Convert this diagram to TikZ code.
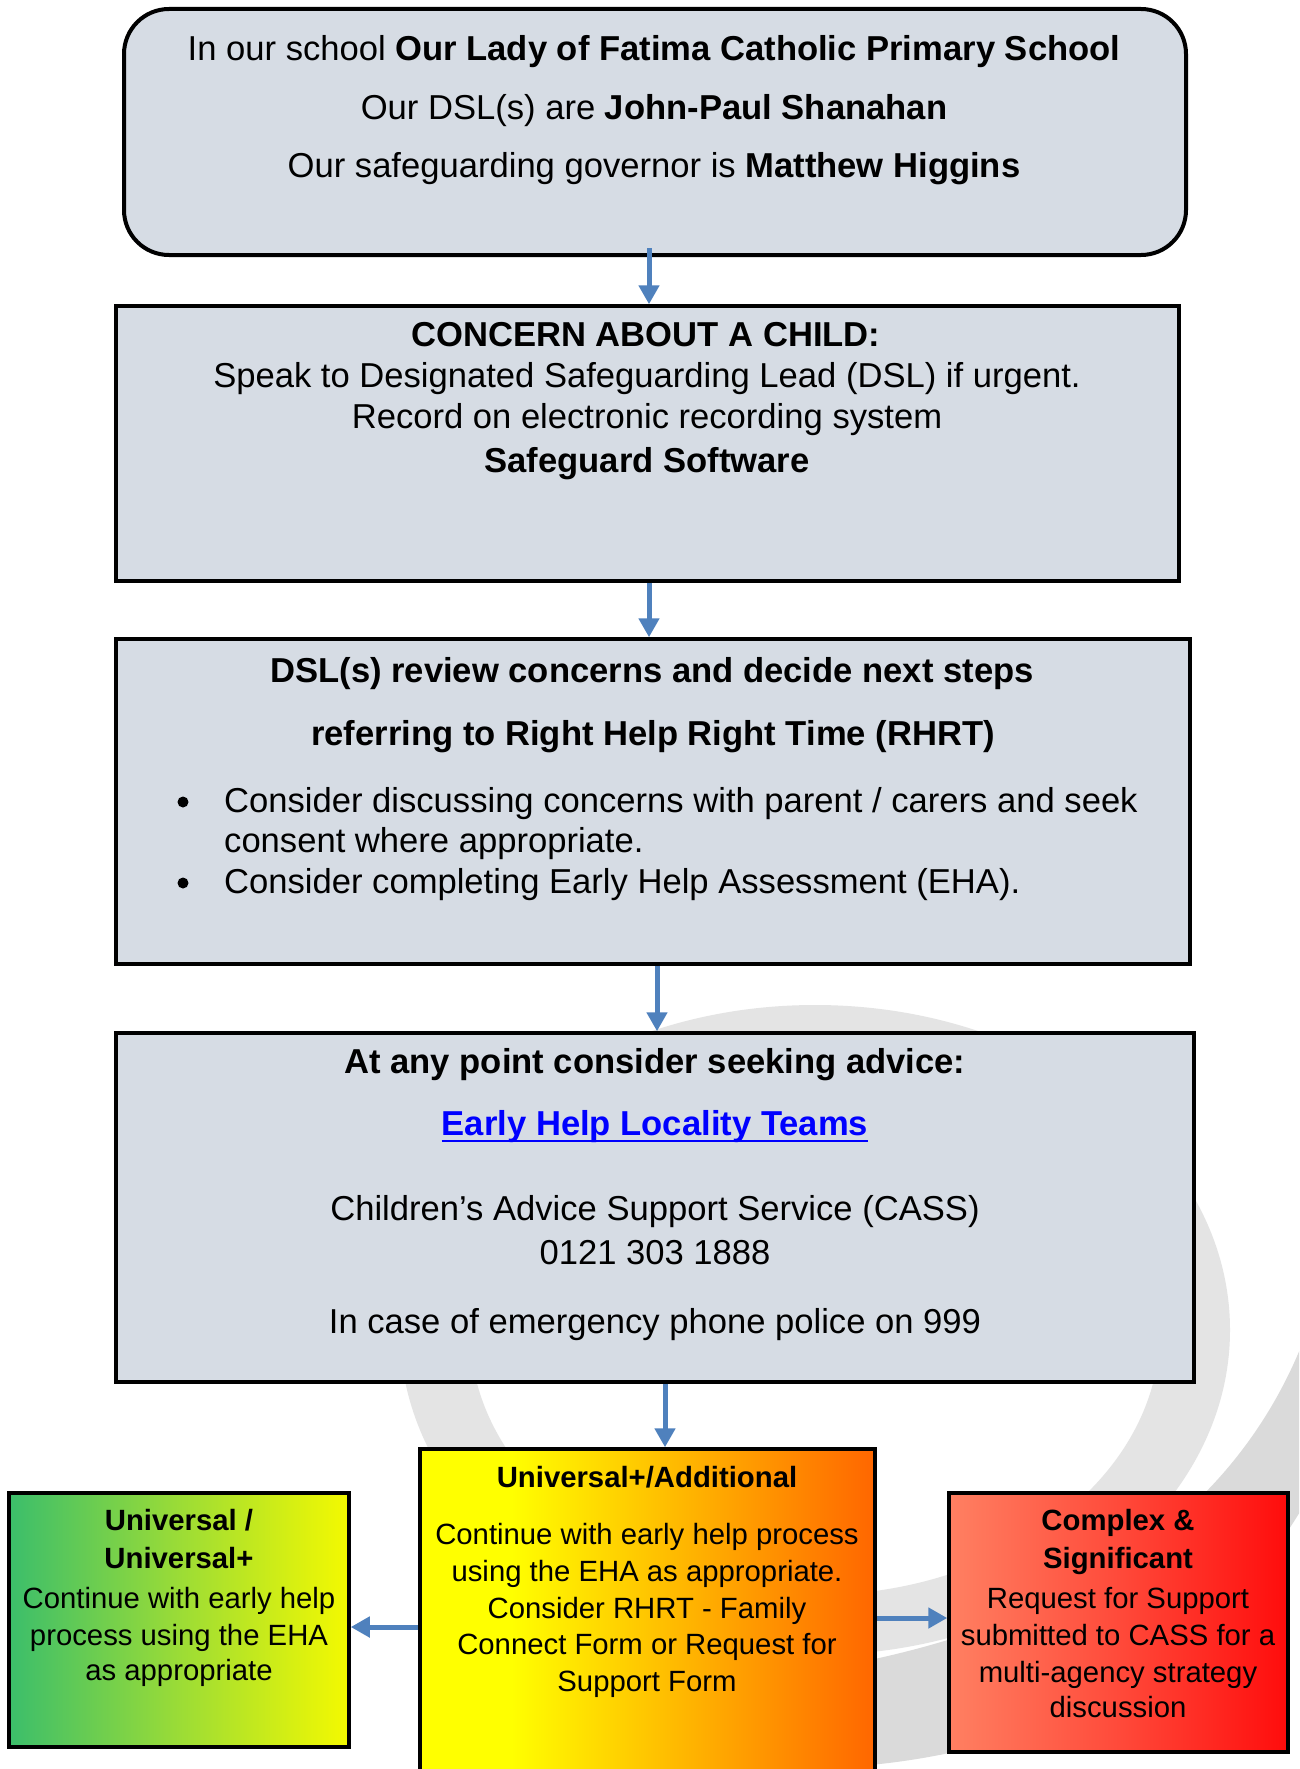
\documentclass[tikz,border=0pt]{standalone}
\usepackage{fontspec}
\setmainfont{Liberation Sans}
\usetikzlibrary{arrows.meta}

\definecolor{boxfill}{HTML}{D6DCE4}
\definecolor{arrblue}{HTML}{4F81BD}
\definecolor{linkblue}{HTML}{0000FF}
\definecolor{ringgray}{HTML}{E4E4E4}
\definecolor{bandgray}{HTML}{DADADA}
\definecolor{grnA}{HTML}{3BBE6B}
\definecolor{grnB}{HTML}{9BDC36}
\definecolor{grnC}{HTML}{F4F900}
\definecolor{ylwA}{HTML}{FFFF00}
\definecolor{orgA}{HTML}{FF6600}
\definecolor{redA}{HTML}{FF8062}
\definecolor{redB}{HTML}{FF4A3A}
\definecolor{redC}{HTML}{FF0C0C}

% yellow plateau on the left, then fading into orange
\pgfdeclarehorizontalshading{amberfade}{100bp}{color(0bp)=(ylwA); color(35bp)=(ylwA); color(75bp)=(orgA); color(100bp)=(orgA)}

\newcommand{\largetext}{\fontsize{34.6pt}{41pt}\selectfont}
\newcommand{\smalltext}{\fontsize{29.3pt}{36.7pt}\selectfont}

\tikzset{
  panel/.style={draw=black, line width=3.5pt, fill=boxfill, inner sep=0pt},
  tier/.style={draw=black, line width=3.5pt, inner sep=0pt},
  flow/.style={draw=arrblue, line width=5pt, -{Triangle[width=20pt,length=19pt]}},
  big/.style={anchor=base, inner sep=0pt, font=\largetext},
  small/.style={anchor=base, inner sep=0pt, font=\smalltext},
  dot/.style={circle, fill=black, inner sep=0pt, minimum size=11pt},
}

\begin{document}
\begin{tikzpicture}[x=1pt, y=-1pt]
\useasboundingbox (0,0) rectangle (1299,1769);
\clip (0,0) rectangle (1299,1769);
\fill[white] (0,0) rectangle (1299,1769);

% faint logo in the background
\fill[ringgray, even odd rule] (815,1330) ellipse [x radius=415, y radius=325]
                               (815,1330) ellipse [x radius=345, y radius=265];
\fill[bandgray] (1330,1250) .. controls (1290,1450) and (1150,1600) .. (870,1660)
  -- (870,1765) .. controls (1180,1735) and (1350,1530) .. (1390,1250) -- cycle;

% boxes
\node[panel, rounded corners=45pt, line width=4pt, minimum width=1062pt, minimum height=246pt] (b1) at (655,132) {};
\node[panel, minimum width=1063pt, minimum height=275pt] (b2) at (647.5,443.5) {};
\node[panel, minimum width=1074pt, minimum height=325pt] (b3) at (653,801.5) {};
\node[panel, minimum width=1078pt, minimum height=349pt] (b4) at (655,1207.5) {};
\node[tier, left color=grnA, right color=grnC, middle color=grnB, minimum width=340pt, minimum height=254pt] (bl) at (179,1620) {};
\node[tier, shade, shading=amberfade, minimum width=455pt, minimum height=351pt] (bm) at (647.5,1624.5) {};
\node[tier, left color=redA, right color=redC, middle color=redB, minimum width=339pt, minimum height=259pt] (br) at (1118.5,1622.5) {};

% connector columns and rows
\coordinate (x1) at (649,0);
\coordinate (x2) at (649,0);
\coordinate (x3) at (657,0);
\coordinate (x4) at (665,0);
\coordinate (yl) at (0,1627);
\coordinate (yr) at (0,1618);

\path (b1.south -| x1) ++(0,-9) coordinate (a1s);
\draw[flow] (a1s) -- (b2.north -| x1);
\draw[flow] (b2.south -| x2) -- (b3.north -| x2);
\draw[flow] (b3.south -| x3) -- (b4.north -| x3);
\draw[flow] (b4.south -| x4) -- (bm.north -| x4);
\draw[flow] (bm.west |- yl) -- (bl.east |- yl);
\draw[flow] (bm.east |- yr) -- (br.west |- yr);

% top box
\node[big] (t1a) at (654,61) {In our school \textbf{Our Lady of Fatima Catholic Primary School}};
\node[big] (t1b) at (654,119) {Our DSL(s) are \textbf{John-Paul Shanahan}};
\node[big] (t1c) at (654,177) {Our safeguarding governor is \textbf{Matthew Higgins}};

% concern box
\node[big] (t2a) at (646,346) {\textbf{CONCERN ABOUT A CHILD:}};
\node[big] (t2b) at (647,387) {Speak to Designated Safeguarding Lead (DSL) if urgent.};
\node[big] (t2c) at (647,428) {Record on electronic recording system};
\node[big] (t2d) at (647,472) {\textbf{Safeguard Software}};

% review box
\node[big] (t3a) at (652,682) {\textbf{DSL(s) review concerns and decide next steps}};
\node[big] (t3b) at (653,745) {\textbf{referring to Right Help Right Time (RHRT)}};
\node[dot] (d3a) at (183,802) {};
\node[big, anchor=base west] (t3c) at (224,812) {Consider discussing concerns with parent / carers and seek};
\node[big, anchor=base west] (t3d) at (224,852) {consent where appropriate.};
\node[dot] (d3b) at (183,883) {};
\node[big, anchor=base west] (t3e) at (224,893) {Consider completing Early Help Assessment (EHA).};

% advice box
\node[big] (t4a) at (655,1073) {\textbf{At any point consider seeking advice:}};
\node[big, text=linkblue] (t4b) at (655,1135) {\textbf{Early Help Locality Teams}};
\draw[linkblue, line width=2.7pt] ([yshift=-6pt]t4b.base west) -- ([yshift=-6pt]t4b.base east);
\node[big] (t4c) at (655,1220) {Children’s Advice Support Service (CASS)};
\node[big] (t4d) at (655,1264) {0121 303 1888};
\node[big] (t4e) at (655,1333) {In case of emergency phone police on 999};

% left tier
\node[small] (l1) at (179,1530) {\textbf{Universal /}};
\node[small] (l2) at (179,1568) {\textbf{Universal+}};
\node[small] (l3) at (179,1608) {Continue with early help};
\node[small] (l4) at (179,1645) {process using the EHA};
\node[small] (l5) at (179,1680) {as appropriate};

% middle tier
\node[small] (m1) at (647,1487) {\textbf{Universal+/Additional}};
\node[small] (m2) at (647,1544) {Continue with early help process};
\node[small] (m3) at (647,1581) {using the EHA as appropriate.};
\node[small] (m4) at (647,1618) {Consider RHRT - Family};
\node[small] (m5) at (647,1654) {Connect Form or Request for};
\node[small] (m6) at (647,1691) {Support Form};

% right tier
\node[small] (r1) at (1118,1530) {\textbf{Complex \&}};
\node[small] (r2) at (1118,1568) {\textbf{Significant}};
\node[small] (r3) at (1118,1608) {Request for Support};
\node[small] (r4) at (1118,1645) {submitted to CASS for a};
\node[small] (r5) at (1118,1682) {multi-agency strategy};
\node[small] (r6) at (1118,1717) {discussion};
\end{tikzpicture}
\end{document}
